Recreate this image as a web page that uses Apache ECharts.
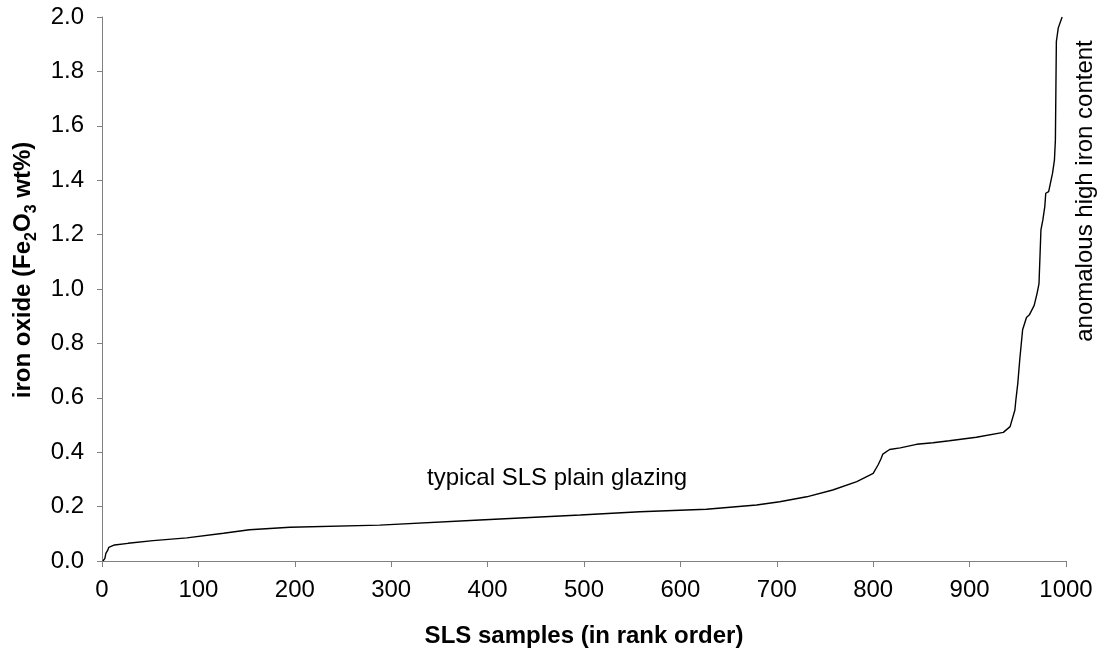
<!DOCTYPE html>
<html>
<head>
<meta charset="utf-8">
<script src="https://cdn.jsdelivr.net/npm/echarts@6/dist/echarts.min.js"></script>
<style>
html,body{margin:0;padding:0;background:#fff;}
#chart{width:1100px;height:657px;}
</style>
</head>
<body>
<div id="chart"></div>
<script>
const ranks = [1,3,4,6,7,13,27,53,88,126,153,195,288,392,496,558,627,679,703,731,758,783,800,805,808,810,817,828,845,862,879,907,935,942,947,948,950,952,955,959,962,967,970,972,974,976,978,979,982,986,988,989,990,992,996];
const values = [0,0.01,0.028,0.04,0.05,0.059,0.065,0.075,0.085,0.102,0.115,0.124,0.132,0.151,0.169,0.181,0.19,0.206,0.218,0.236,0.261,0.292,0.322,0.353,0.375,0.393,0.41,0.416,0.429,0.435,0.442,0.455,0.473,0.494,0.555,0.592,0.653,0.739,0.85,0.895,0.905,0.94,0.984,1.02,1.217,1.254,1.303,1.352,1.358,1.425,1.474,1.548,1.91,1.96,2.0];
const xTitle = 'SLS samples (in rank order)';
const yTitle = '{n|iron oxide (Fe}{s|2}{n|O}{s|3}{n| wt%)}';
const annotations = ['typical SLS plain glazing', 'anomalous high iron content'];

const font = 'Liberation Sans, Arial, sans-serif';
const chart = echarts.init(document.getElementById('chart'));
chart.setOption({
  animation: false,
  backgroundColor: '#fff',
  grid: {left: 102, right: 34, top: 17, bottom: 96},
  xAxis: {
    type: 'value', min: 0, max: 1000, interval: 100,
    name: xTitle, nameLocation: 'middle', nameGap: 63,
    nameTextStyle: {fontFamily: font, fontSize: 24, fontWeight: 'bold', color: '#000'},
    axisLine: {lineStyle: {color: '#808080', width: 1}},
    axisTick: {show: true, length: 6, lineStyle: {color: '#808080'}},
    axisLabel: {fontFamily: font, fontSize: 24, color: '#000', margin: 17, formatter: v => String(v)},
    splitLine: {show: false}
  },
  yAxis: {
    type: 'value', min: 0, max: 2, interval: 0.2,
    axisLine: {show: true, lineStyle: {color: '#808080', width: 1}},
    axisTick: {show: true, length: 5, lineStyle: {color: '#808080'}},
    axisLabel: {fontFamily: font, fontSize: 24, color: '#000', margin: 18, formatter: v => v.toFixed(1)},
    splitLine: {show: false}
  },
  series: [{
    type: 'line',
    data: ranks.map((r, i) => [r, values[i]]),
    showSymbol: false,
    lineStyle: {color: '#000', width: 1.4},
    clip: true
  }],
  graphic: [
    {type: 'text', x: 21, y: 270, rotation: Math.PI / 2,
     style: {text: yTitle, align: 'center', verticalAlign: 'middle',
       rich: {
         n: {fontFamily: font, fontSize: 24, fontWeight: 'bold', fill: '#000', lineHeight: 28, verticalAlign: 'bottom'},
         s: {fontFamily: font, fontSize: 16, fontWeight: 'bold', fill: '#000', lineHeight: 28, verticalAlign: 'bottom', padding: [0,0,-5,0]}
       }}},
    {type: 'text', x: 427, y: 478,
     style: {text: annotations[0], font: '24px ' + font, fill: '#000', align: 'left', verticalAlign: 'middle'}},
    {type: 'text', x: 1085, y: 191, rotation: Math.PI / 2,
     style: {text: annotations[1], font: '24px ' + font, fill: '#000', align: 'center', verticalAlign: 'middle'}}
  ]
});
</script>
</body>
</html>
